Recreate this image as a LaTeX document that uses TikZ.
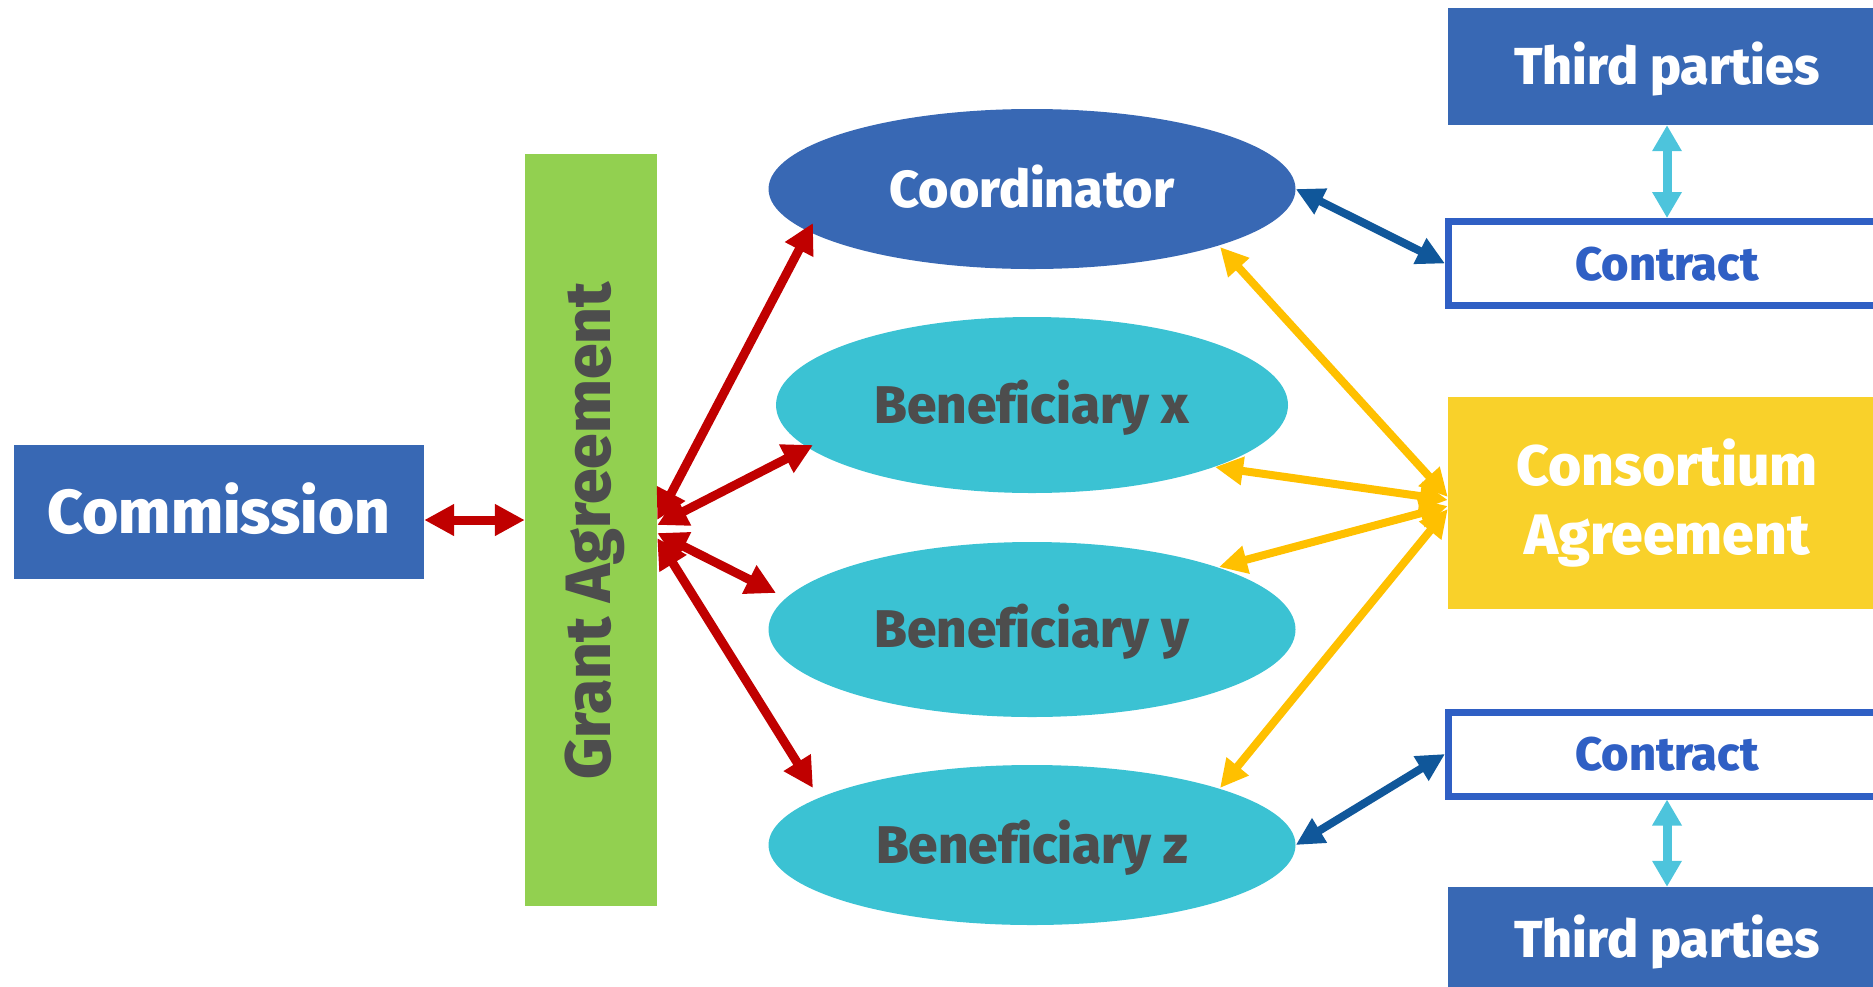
\documentclass[tikz,border=0pt]{standalone}
\usepackage{fontspec}
\setmainfont{Fira Sans}[Ligatures=CommonOff, BoldFont={Fira Sans ExtraBold}]
\usetikzlibrary{arrows.meta,shapes.geometric,calc}
\definecolor{boxblue}{HTML}{3868B4}
\definecolor{bencyan}{HTML}{3BC2D3}
\definecolor{gagreen}{HTML}{92D050}
\definecolor{txtgray}{HTML}{4D4D4D}
\definecolor{ctblue}{HTML}{2F5FC4}
\definecolor{consyellow}{HTML}{F9D12A}
\definecolor{arrred}{HTML}{C00000}
\definecolor{arryellow}{HTML}{FFC000}
\definecolor{arrblue}{HTML}{10579A}
\definecolor{arrcyan}{HTML}{4DC4DC}
\newcommand{\fsz}[1]{\fontsize{#1}{#1}\selectfont\bfseries}
\tikzset{
  solidbox/.style={rectangle, fill=boxblue, text=white, inner sep=0pt, text depth=0pt},
  ellnode/.style={ellipse, inner sep=0pt, text=txtgray, text depth=0pt},
  ctbox/.style={rectangle, draw=ctblue, line width=7pt, fill=white, text=ctblue, inner sep=0pt,
     minimum width=437pt, minimum height=84pt, text height=33pt, text depth=0pt, font=\fsz{47}},
  redarr/.style={draw=arrred, line width=9pt, {Triangle[length=30pt,width=30pt]}-{Triangle[length=30pt,width=30pt]}},
  yelarr/.style={draw=arryellow, line width=8pt, {Triangle[length=28pt,width=27pt]}-{Triangle[length=28pt,width=27pt]}},
  bluarr/.style={draw=arrblue, line width=8pt, {Triangle[length=28pt,width=27pt]}-{Triangle[length=28pt,width=27pt]}},
  cyaarr/.style={draw=arrcyan, line width=9pt, {Triangle[length=26pt,width=28pt]}-{Triangle[length=26pt,width=28pt]}},
}
\begin{document}
\begin{tikzpicture}[x=1pt,y=-1pt]
\useasboundingbox (0,0) rectangle (1873,986);
% nodes
\node[solidbox, minimum width=410pt, minimum height=134pt, font=\fsz{62}, text height=43pt] (comm) at (219,512) {Commission};
\node[rectangle, fill=gagreen, inner sep=0pt, minimum width=132pt, minimum height=752pt] (ga) at (591,530) {};
\node[rotate=90, text=txtgray, font=\fsz{64}, inner sep=0pt, text height=44pt, text depth=0pt] (gatext) at (588.5,531) {Grant Agreement};
\node[ellnode, fill=boxblue, text=white, minimum width=527pt, minimum height=160pt, font=\fsz{52}, text height=36pt] (co) at (1032,189) {Coordinator};
\node[ellnode, fill=bencyan, minimum width=512pt, minimum height=176pt, font=\fsz{53}, text height=36.6pt] (bx) at (1032,405) {Benef\kern0pt iciary x};
\node[ellnode, fill=bencyan, minimum width=527pt, minimum height=175pt, font=\fsz{53}, text height=36.6pt] (by) at (1032,629.5) {Benef\kern0pt iciary y};
\node[ellnode, fill=bencyan, minimum width=527pt, minimum height=160pt, font=\fsz{53}, text height=36.6pt] (bz) at (1032,845) {Benef\kern0pt iciary z};
\node[solidbox, minimum width=438pt, minimum height=117pt, font=\fsz{52}, text height=36pt] (tp1) at (1667,66.5) {Third parties};
\node[ctbox] (ct1) at (1667,263.5) {Contract};
\node[rectangle, fill=consyellow, text=white, inner sep=0pt, minimum width=438pt, minimum height=212pt,
      align=center, font=\fontsize{57}{69}\selectfont\bfseries] (cons) at (1667,503) {Consortium\\Agreement};
\node[ctbox] (ct2) at (1667,754) {Contract};
\node[solidbox, minimum width=438pt, minimum height=105pt, font=\fsz{52}, text height=36pt] (tp2) at (1667,939.5) {Third parties};
% connectors
\draw[redarr] ($(comm.east)+(0,8)$) -- ($(ga.west)+(0,-10)$);
\draw[redarr] ($(ga.east)+(0,-10)$) -- ($(co.center)+(-219,34)$);
\draw[redarr] ($(ga.east)+(0,-5)$) -- ($(bx.center)+(-219,40)$);
\draw[redarr] ($(ga.east)+(0,3)$) -- ($(by.center)+(-256,-36.5)$);
\draw[redarr] ($(ga.east)+(0,8)$) -- ($(bz.center)+(-219,-57)$);
\draw[yelarr] ($(cons.west)+(0,-6)$) -- ($(co.center)+(188,58)$);
\draw[yelarr] ($(cons.west)+(0,-3)$) -- ($(bx.center)+(183,62)$);
\draw[yelarr] ($(cons.west)+(0,3)$) -- ($(by.center)+(187,-62.5)$);
\draw[yelarr] ($(cons.west)+(0,6)$) -- ($(bz.center)+(188,-57)$);
\draw[bluarr] (co.east) -- (ct1.west);
\draw[bluarr] (bz.east) -- (ct2.west);
\draw[cyaarr] (tp1.south) -- (ct1.north);
\draw[cyaarr] (ct2.south) -- (tp2.north);
\end{tikzpicture}
\end{document}
